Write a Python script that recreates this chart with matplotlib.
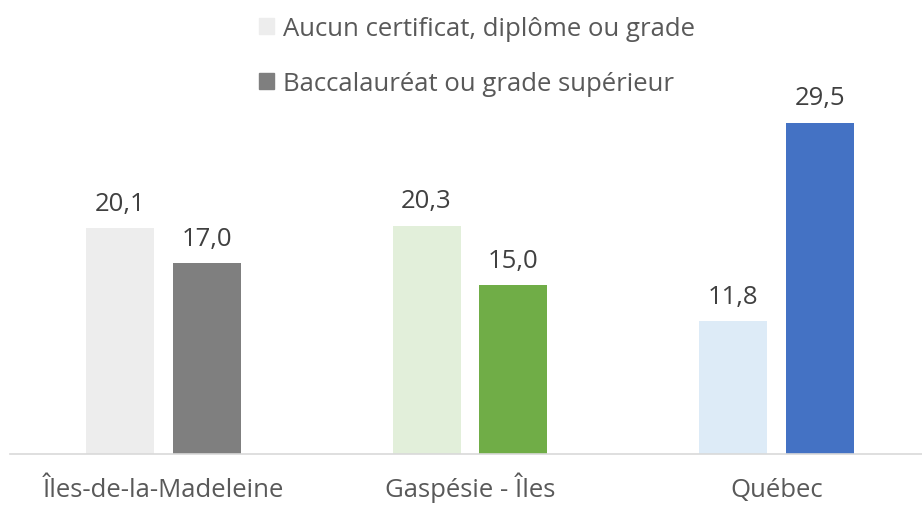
import matplotlib.pyplot as plt
from matplotlib.patches import Patch
import numpy as np

plt.rcParams['font.family'] = ['Open Sans', 'DejaVu Sans']

# Data
regions = ["Îles-de-la-Madeleine", "Gaspésie - Îles", "Québec"]
series_names = ["Aucun certificat, diplôme ou grade", "Baccalauréat ou grade supérieur"]
aucun = [20.1, 20.3, 11.8]
bacc = [17.0, 15.0, 29.5]
light_colors = ["#EDEDED", "#E2EFDA", "#DDEBF7"]
dark_colors = ["#7F7F7F", "#70AD47", "#4472C4"]

text_color = "#595959"
fs = 18.5

fig = plt.figure(figsize=(9.22, 5.06), dpi=100)
ax = fig.add_axes([10 / 922, 1 - 455 / 506, 920 / 922, (455 - 100) / 506])

x = np.arange(len(regions))
w = 0.2217
off = 0.1418
b1 = ax.bar(x - off, aucun, w, color=light_colors)
b2 = ax.bar(x + off, bacc, w, color=dark_colors)

for bars, vals in ((b1, aucun), (b2, bacc)):
    for rect, v in zip(bars, vals):
        ax.annotate(f"{v:.1f}".replace(".", ","),
                    (rect.get_x() + rect.get_width() / 2, rect.get_height()),
                    xytext=(0, 9), textcoords="offset points",
                    ha="center", va="bottom", fontsize=fs, color="#404040")

ax.set_xlim(-0.5, 2.5)
ax.set_ylim(0, 31.6)
ax.set_yticks([])
ax.set_xticks(x)
ax.set_xticklabels(regions, fontsize=fs, color=text_color)
for lbl in ax.get_xticklabels():
    lbl.set_va("baseline")
ax.tick_params(axis="x", length=0, pad=30.5)
for s in ["top", "left", "right"]:
    ax.spines[s].set_visible(False)
ax.spines["bottom"].set_color("#D9D9D9")
ax.spines["bottom"].set_linewidth(1.2)

handles = [Patch(color=light_colors[0]), Patch(color=dark_colors[0])]
fig.legend(handles, series_names, loc="upper left", bbox_to_anchor=(236 / 922, 1.012),
           frameon=False, fontsize=fs, labelcolor=text_color,
           handlelength=0.58, handleheight=0.58, handletextpad=0.35, labelspacing=1.16)

fig.savefig("out.png", dpi=100)
